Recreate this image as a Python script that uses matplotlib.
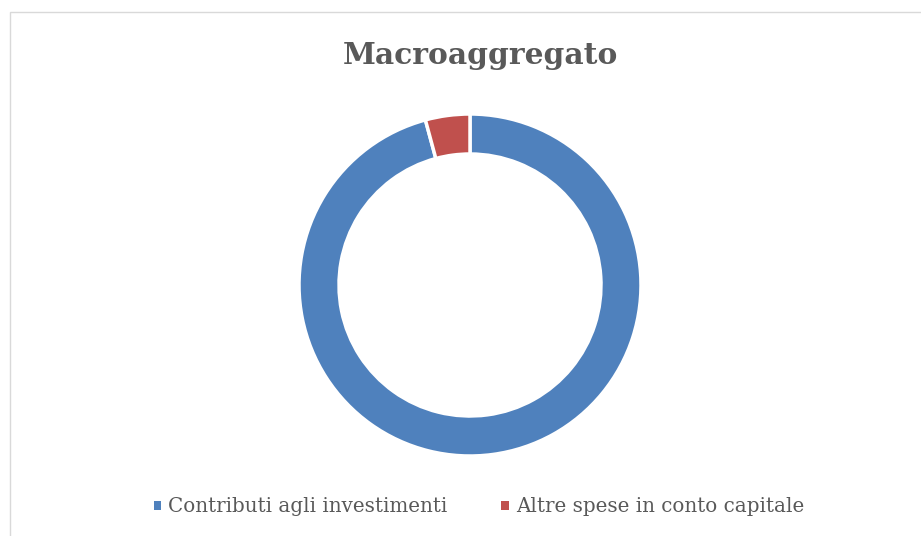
import matplotlib
matplotlib.use("Agg")
import matplotlib.pyplot as plt
from matplotlib.patches import Rectangle, Patch

labels = ["Contributi agli investimenti", "Altre spese in conto capitale"]
values = [95.8, 4.2]
colors = ["#4F81BD", "#C0504D"]
title = "Macroaggregato"

W, H = 921, 536
fig = plt.figure(figsize=(W / 100, H / 100), dpi=100)
fig.patch.set_facecolor("white")

# chart border
fig.patches.append(Rectangle((10 / W, -0.01), 1.2, 1 - 12 / H + 0.01, transform=fig.transFigure,
                             fill=False, edgecolor="#D9D9D9", linewidth=1))

cx, cy, r = 470, 285, 171
ax = fig.add_axes([(cx - r) / W, (H - cy - r) / H, 2 * r / W, 2 * r / H])
ax.pie(values, colors=colors, startangle=90, counterclock=False, radius=1,
       wedgeprops=dict(width=40 / 171, edgecolor="white", linewidth=2.5))
ax.set_xlim(-1.0, 1.0)
ax.set_ylim(-1.0, 1.0)
ax.set_aspect("equal")
ax.axis("off")

serif = ["DejaVu Serif"]
fig.text(480 / W, 1 - 55 / H, title, ha="center", va="center", fontsize=21.4,
         fontweight="bold", color="#595959", family=serif)

handles = [Patch(facecolor=c, edgecolor="none") for c in colors]
leg = fig.legend(handles, labels, loc="center", bbox_to_anchor=(479 / W, 1 - 507 / H), ncol=2,
                 frameon=False, handlelength=0.38, handleheight=0.38,
                 handletextpad=0.35, columnspacing=2.7,
                 prop=dict(family=serif, size=14.3))
for t in leg.get_texts():
    t.set_color("#595959")

fig.savefig("out.png", dpi=100)
